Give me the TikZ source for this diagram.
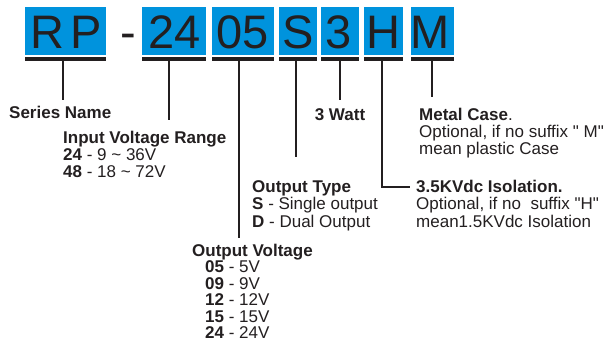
\documentclass[tikz,border=0pt]{standalone}
\usepackage{fontspec}
\setmainfont{Liberation Sans}
\definecolor{boxblue}{HTML}{0093DD}
\definecolor{ink}{HTML}{231F20}
\newcommand\mysz{\fontsize{17}{17}\selectfont}
\newcommand\bigsz{\fontsize{47}{47}\selectfont}
\newcommand\dq{\XeTeXglyph\XeTeXcharglyph"22\relax}
\begin{document}
\begin{tikzpicture}[x=1pt,y=-1pt,
  codebox/.style={fill=boxblue, inner sep=0, anchor=north west, minimum height=48pt},
  codebar/.style={fill=ink, inner sep=0, anchor=north west, minimum height=4pt},
  letter/.style={text=ink, font=\bigsz, inner sep=0, anchor=base},
  lbl/.style={text=ink, font=\mysz, inner sep=0, anchor=base west},
  ttl/.style={lbl, font=\mysz\bfseries},
  conn/.style={draw=ink, line width=2pt}]
\useasboundingbox (0,0) rectangle (606,349);
% boxes
\node[codebox, minimum width=81pt] (bRP) at (25,7) {};
\node[codebox, minimum width=64pt] (bIV) at (142,7) {};
\node[codebox, minimum width=62pt] (bOV) at (212,7) {};
\node[codebox, minimum width=38pt] (bS) at (279,7) {};
\node[codebox, minimum width=38pt] (bW) at (321,7) {};
\node[codebox, minimum width=39pt] (bH) at (364,7) {};
\node[codebox, minimum width=43pt] (bM) at (411,7) {};
% bars
\node[codebar, minimum width=81pt] (rRP) at (25,57) {};
\node[codebar, minimum width=64pt] (rIV) at (142,57) {};
\node[codebar, minimum width=62pt] (rOV) at (212,57) {};
\node[codebar, minimum width=38pt] (rS) at (279,57) {};
\node[codebar, minimum width=38pt] (rW) at (321,57) {};
\node[codebar, minimum width=39pt] (rH) at (364,57) {};
\node[codebar, minimum width=43pt] (rM) at (411,57) {};
% letters
\node[letter] (tR) at (47,48) {R};
\node[letter] (tP) at (86,48) {P};
\node[letter] (tD) at (128,48) {-};
\node[letter] (tIV) at (175,48) {24};
\node[letter] (tOV) at (242.5,48) {05};
\node[letter] (tS) at (298,48) {S};
\node[letter] (tW) at (339,48) {3};
\node[letter] (tH) at (383.5,48) {H};
\node[letter] (tM) at (430.5,48) {M};
% labels
\node[ttl] (lSN) at (9,118) {Series Name};
\node[ttl] (lIV) at (63,143) {Input Voltage Range};
\node[lbl] (lIV1) at (63,160) {\textbf{24} - 9 \textasciitilde{} 36V};
\node[lbl] (lIV2) at (63,177) {\textbf{48} - 18 \textasciitilde{} 72V};
\node[ttl] (lOV) at (192,256) {Output Voltage};
\node[lbl] (lOV1) at (205,272.5) {\textbf{05} - 5V};
\node[lbl] (lOV2) at (205,289) {\textbf{09} - 9V};
\node[lbl] (lOV3) at (205,305.5) {\textbf{12} - 12V};
\node[lbl] (lOV4) at (205,322) {\textbf{15} - 15V};
\node[lbl] (lOV5) at (205,338.5) {\textbf{24} - 24V};
\node[ttl] (lOT) at (252,192) {Output Type};
\node[lbl] (lOT1) at (252,209.5) {\textbf{S} - Single output};
\node[lbl] (lOT2) at (252,227) {\textbf{D} - Dual Output};
\node[ttl, anchor=base] (lW) at (340,120) {3 Watt};
\node[lbl] (lM) at (419,120) {\textbf{Metal Case}.};
\node[lbl] (lM1) at (419,137) {Optional, if no suffix \dq{} M\dq};
\node[lbl] (lM2) at (419,154) {mean plastic Case};
\node[ttl] (lH) at (416,192) {3.5KVdc Isolation.};
\node[lbl] (lH1) at (416,209.5) {Optional, if no\ \ suffix \dq H\dq};
\node[lbl] (lH2) at (416,227) {mean1.5KVdc Isolation};
% connector ends
\coordinate (eRP) at (63,100);
\coordinate (eIV) at (169,120);
\coordinate (eOV) at (239,238);
\coordinate (eS) at (296,157);
\coordinate (eW) at (340,100);
\coordinate (eH) at (382,187);
\coordinate (eHx) at (410,187);
\coordinate (eM) at (432,97);
% connectors
\draw[conn] (rRP.south -| eRP) -- (eRP);
\draw[conn] (rIV.south -| eIV) -- (eIV);
\draw[conn] (rOV.south -| eOV) -- (eOV);
\draw[conn] (rS.south -| eS) -- (eS);
\draw[conn] (rW.south -| eW) -- (eW);
\draw[conn] (rH.south -| eH) -- (eH) -- (eHx);
\draw[conn] (rM.south -| eM) -- (eM);
\end{tikzpicture}
\end{document}
